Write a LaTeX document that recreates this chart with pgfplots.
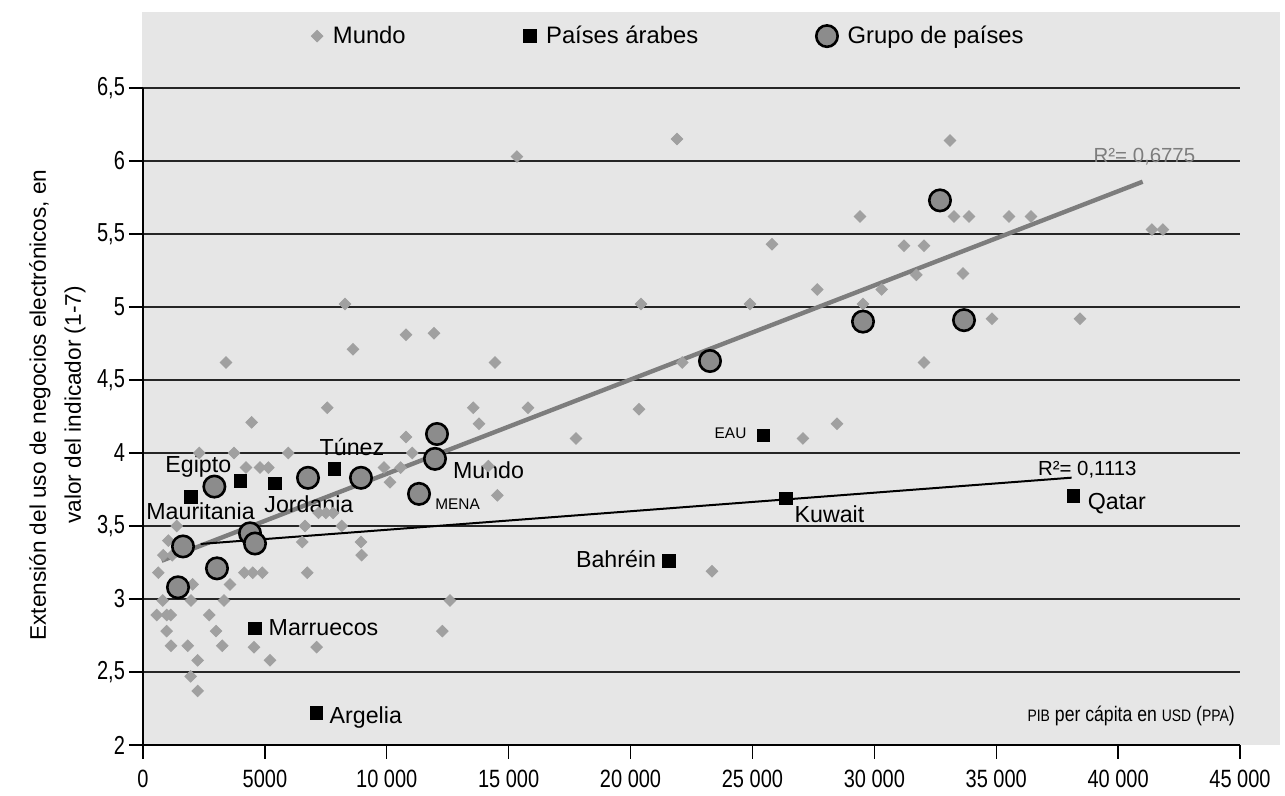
\documentclass[border=0pt]{standalone}
\usepackage{fontspec}
\setmainfont{Liberation Sans}
\usepackage{pgfplots}
\pgfplotsset{compat=1.18}
\definecolor{bggray}{RGB}{230,230,230}
\definecolor{dgray}{RGB}{160,160,160}
\definecolor{cgray}{RGB}{140,140,140}
\definecolor{lgray}{RGB}{125,125,125}
\newcommand{\smallcap}[1]{{\fontsize{8.3}{10}\selectfont #1}}
\newcommand{\lab}{\fontsize{11.6}{13}\selectfont}
\newcommand{\labs}{\fontsize{7.7}{9}\selectfont}
\begin{document}
\begin{tikzpicture}
\fill[bggray] (-0.5pt,0pt) rectangle (568.5pt,366.5pt);
\begin{axis}[
  at={(0pt,0pt)}, anchor=south west,
  scale only axis, width=548.5pt, height=328.5pt,
  xmin=0, xmax=45000, ymin=2, ymax=6.5,
  axis x line*=bottom, axis y line*=left,
  axis line style={-, black, line width=0.8pt},
  xtick={0,5000,10000,15000,20000,25000,30000,35000,40000,45000},
  xticklabels={0,5000,10 000,15 000,20 000,25 000,30 000,35 000,40 000,45 000},
  ytick={2,2.5,3,3.5,4,4.5,5,5.5,6,6.5},
  yticklabels={2,{2,5},3,{3,5},4,{4,5},5,{5,5},6,{6,5}},
  tick align=outside, major tick length=7pt,
  tick style={black, line width=0.7pt},
  ymajorgrids, grid style={black!85, line width=0.7pt},
  ticklabel style={font=\fontsize{10}{12}\selectfont},
  xticklabel style={inner ysep=1pt, yshift=-4pt, yscale=1.25},
  yticklabel style={xshift=1.5pt, yscale=1.3},
  ylabel={Extensión del uso de negocios electrónicos, en\\valor del indicador (1-7)},
  ylabel style={align=center, font=\fontsize{11.3}{17.5}\selectfont, at={(axis description cs:-0.078,0.5175)}, anchor=center},
  legend columns=3,
  legend style={draw=none, fill=none, inner sep=0pt, at={(axis description cs:0.1531,1.079)}, anchor=west, font=\fontsize{11.9}{14}\selectfont,
    /tikz/every odd column/.append style={column sep=3pt},
    /tikz/every even column/.append style={column sep=57pt}},
]
% Mundo
\addplot[only marks, color=dgray, mark=square*, mark size=2.05pt, mark options={rotate=45, fill=dgray, draw=none}] coordinates {
(629,3.18) (562,2.89) (808,2.99) (834,3.30) (972,2.89) (972,2.78) (1039,3.40) (1136,2.89) (1149,2.68) (1200,3.30)
(1381,3.50) (1833,2.68) (1956,2.47) (1969,2.99) (2034,3.10) (2242,2.58) (2242,2.37) (2310,4.00) (2720,2.89) (2995,2.78)
(3254,2.68) (3323,2.99) (3405,4.62) (3569,3.10) (3733,4.00) (4157,3.18) (4225,3.90) (4458,4.21) (4499,3.18) (4553,2.67)
(4799,3.90) (4895,3.18) (5141,3.90) (5210,2.58) (5961,4.00) (6535,3.39) (6645,3.50) (6740,3.18) (7124,2.67) (7200,3.59)
(7500,3.59) (7800,3.59) (7561,4.31) (8150,3.50) (8286,5.02) (8614,4.71) (8942,3.39) (8969,3.30) (9886,3.90) (10132,3.80)
(10570,3.90) (10788,4.11) (10788,4.81) (11047,4.00) (11937,4.82) (12278,2.78) (12593,2.99) (13550,4.31) (13783,4.20) (14165,3.91)
(14439,4.62) (14535,3.71) (15341,6.03) (15792,4.31) (17762,4.10) (20346,4.30) (20428,5.02) (21905,6.15) (22123,4.62) (23340,3.19)
(24899,5.02) (25802,5.43) (27073,4.10) (27660,5.12) (28468,4.20) (29412,5.62) (29535,5.02) (30300,5.12) (31216,5.42) (31722,5.22)
(32036,5.42) (32036,4.62) (33104,6.14) (33268,5.62) (33637,5.23) (33884,5.62) (34826,4.92) (35523,5.62) (36426,5.62) (38436,4.92)
(41389,5.53) (41840,5.53)
};
\addlegendentry{Mundo}
% trend Mundo
\addplot[forget plot, lgray, line width=2.2pt] coordinates {(766,3.262) (41006,5.858)};
% Arab countries
\addplot[only marks, color=black, mark=square*, mark size=3.1pt] coordinates {
(1969,3.70) (4006,3.81) (5415,3.79) (7848,3.89) (4594,2.80) (7124,2.22) (25446,4.12) (26376,3.69) (21577,3.26) (38176,3.705)
};
\addlegendentry{Países árabes}
% country groups
\addplot[only marks, color=black, mark=*, mark size=5.35pt, mark options={fill=cgray, draw=black, line width=1.3pt}] coordinates {
(1436,3.08) (1641,3.36) (2928,3.77) (3035,3.21) (4389,3.45) (4594,3.38) (6768,3.83) (8942,3.83) (11322,3.72) (11978,3.96)
(12060,4.13) (23258,4.63) (29535,4.90) (32693,5.73) (33678,4.91)
};
\addlegendentry{Grupo de países}
% trend Arab
\addplot[forget plot, black, line width=1pt] coordinates {(2366,3.377) (38094,3.831)};
% labels
\node[anchor=base west, inner sep=0pt, font=\lab] at (axis cs:902,3.866) {Egipto};
\node[anchor=base west, inner sep=0pt, font=\lab] at (axis cs:123,3.546) {Mauritania};
\node[anchor=base west, inner sep=0pt, font=\lab] at (axis cs:4964,3.591) {Jordania};
\node[anchor=base west, inner sep=0pt, font=\lab] at (axis cs:7232,3.982) {Túnez};
\node[anchor=base west, inner sep=0pt, font=\lab] at (axis cs:12705,3.827) {Mundo};
\node[anchor=base west, inner sep=0pt, font=\labs] at (axis cs:11978,3.610) {MENA};
\node[anchor=base west, inner sep=0pt, font=\labs] at (axis cs:23436,4.101) {EAU};
\node[anchor=base west, inner sep=0pt, font=\lab] at (axis cs:26717,3.523) {Kuwait};
\node[anchor=base west, inner sep=0pt, font=\lab] at (axis cs:17750,3.215) {Bahréin};
\node[anchor=base west, inner sep=0pt, font=\lab] at (axis cs:38740,3.61) {Qatar};
\node[anchor=base west, inner sep=0pt, font=\lab] at (axis cs:5141,2.747) {Marruecos};
\node[anchor=base west, inner sep=0pt, font=\lab] at (axis cs:7643,2.149) {Argelia};
\node[anchor=base west, inner sep=0pt, font=\fontsize{10.2}{12}\selectfont, text=lgray] at (axis cs:38982,5.989) {R²= 0,6775};
\node[anchor=base west, inner sep=0pt, font=\fontsize{10.2}{12}\selectfont] at (axis cs:36700,3.849) {R²= 0,1113};
\node[anchor=base east, inner sep=0pt, xscale=0.84, font=\fontsize{10.5}{12}\selectfont] at (axis cs:44800,2.158) {\smallcap{PIB} per cápita en \smallcap{USD} (\smallcap{PPA})};
\end{axis}
\pgfresetboundingbox
\path[use as bounding box] (-71.5pt,-25.5pt) rectangle (571pt,372.5pt);
\end{tikzpicture}
\end{document}
